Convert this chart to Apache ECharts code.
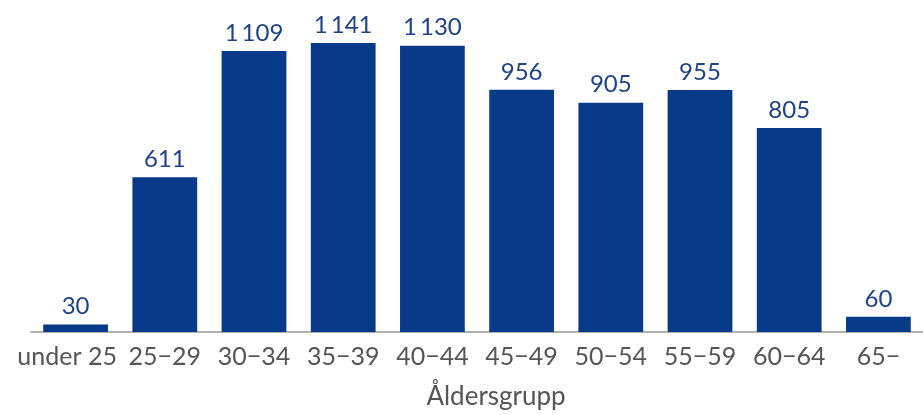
<!DOCTYPE html>
<html><head><meta charset="utf-8">
<script src="https://cdn.jsdelivr.net/npm/echarts@6/dist/echarts.min.js"></script>
<style>html,body{margin:0;padding:0;background:#fff}#c{width:923px;height:415px}</style>
</head><body><div id="c"></div>
<script>
const categories = ['under 25','25−29','30−34','35−39','40−44','45−49','50−54','55−59','60−64','65−'];
const values = [30, 611, 1109, 1141, 1130, 956, 905, 955, 805, 60];
const axisName = 'Åldersgrupp';

const chart = echarts.init(document.getElementById('c'));
chart.setOption({
  animation: false,
  grid: { left: 31, width: 896, top: 28, bottom: 82, containLabel: false },
  xAxis: {
    type: 'category',
    data: categories.map((c, i) => i === 0 ? { value: c, textStyle: { padding: [0, 17, 0, 0] } } : c),
    axisTick: { show: false },
    axisLine: { lineStyle: { color: '#b0b0b0', width: 2 } },
    axisLabel: { color: '#555', fontSize: 25, fontFamily: 'Lato', margin: 12, interval: 0 },
    name: axisName, nameLocation: 'middle', nameGap: 52,
    nameTextStyle: { color: '#555', fontSize: 26, fontFamily: 'Lato', padding: [0,0,0,38] }
  },
  yAxis: { type: 'value', min: 0, max: 1200, show: false, splitLine: { show: false } },
  series: [{
    type: 'bar', data: values, barWidth: '72.6%',
    itemStyle: { color: '#073b8a' },
    label: {
      show: true, position: 'top', distance: 6, color: '#1d4289', fontSize: 24, fontFamily: 'Lato',
      formatter: p => String(p.value).replace(/\B(?=(\d{3})+(?!\d))/g, '\u2009')
    }
  }]
});
</script></body></html>
